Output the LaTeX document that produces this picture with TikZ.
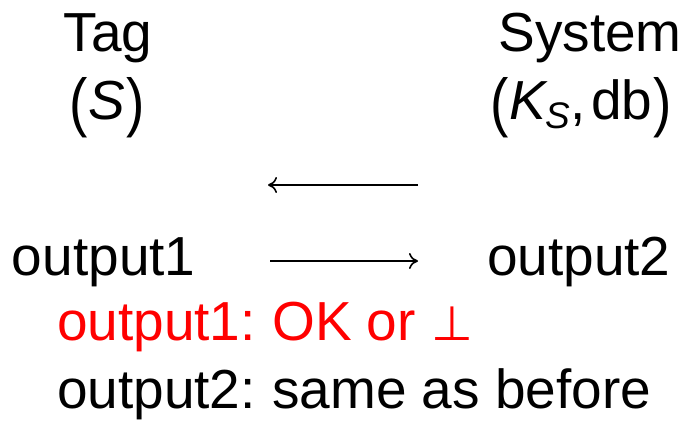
\documentclass[tikz,border=0pt]{standalone}
\usepackage{fontspec}
\setmainfont{Liberation Sans}
\newfontfamily\symfont{DejaVu Sans}
\usetikzlibrary{arrows.meta}
\definecolor{alertred}{RGB}{255,0,0}
\newcommand{\tallL}{\raisebox{-4pt}{\scalebox{1}[1.18]{(}}}
\newcommand{\tallR}{\raisebox{-4pt}{\scalebox{1}[1.18]{)}}}
\tikzset{
  lbl/.style={inner sep=0pt, outer sep=0pt, anchor=base, font=\fontsize{55}{62}\selectfont},
  lblw/.style={lbl, anchor=base west},
  note/.style={lblw},
  msg/.style={line width=1.6pt, -{To[length=9pt,width=16pt]}},
}
\begin{document}
\begin{tikzpicture}[x=1pt,y=-1pt]
\useasboundingbox (0,0) rectangle (687,441);
\node[lbl] (tag) at (108,52) {Tag};
\node[lbl] (sys) at (590,52) {System};
\node[lbl] (tagk) at (107,120) {\tallL\kern1pt\textit{S}\kern1pt\tallR};
\node[lbl] (sysk) at (581,120) {\tallL\kern1pt\textit{K}\kern-3pt\raisebox{-9pt}{\fontsize{37}{40}\selectfont\textit{S}}\kern1pt,\kern5pt db\kern1pt\tallR};
\coordinate (l1) at (418,185);
\coordinate (l2) at (268,185);
\coordinate (r1) at (270,261);
\coordinate (r2) at (418,261);
\draw[msg] (l1) -- (l2);
\draw[msg] (r1) -- (r2);
\node[lblw] (o1) at (12,275) {output1};
\node[lblw] (o2) at (487,275) {output2};
\node[note, text=alertred] (n1) at (57,340) {output1:\hspace{0.3em}OK or {\symfont\fontsize{48}{55}\selectfont ⊥}};
\node[note] (n2) at (57,408) {output2:\hspace{0.3em}same as before};
\end{tikzpicture}
\end{document}
